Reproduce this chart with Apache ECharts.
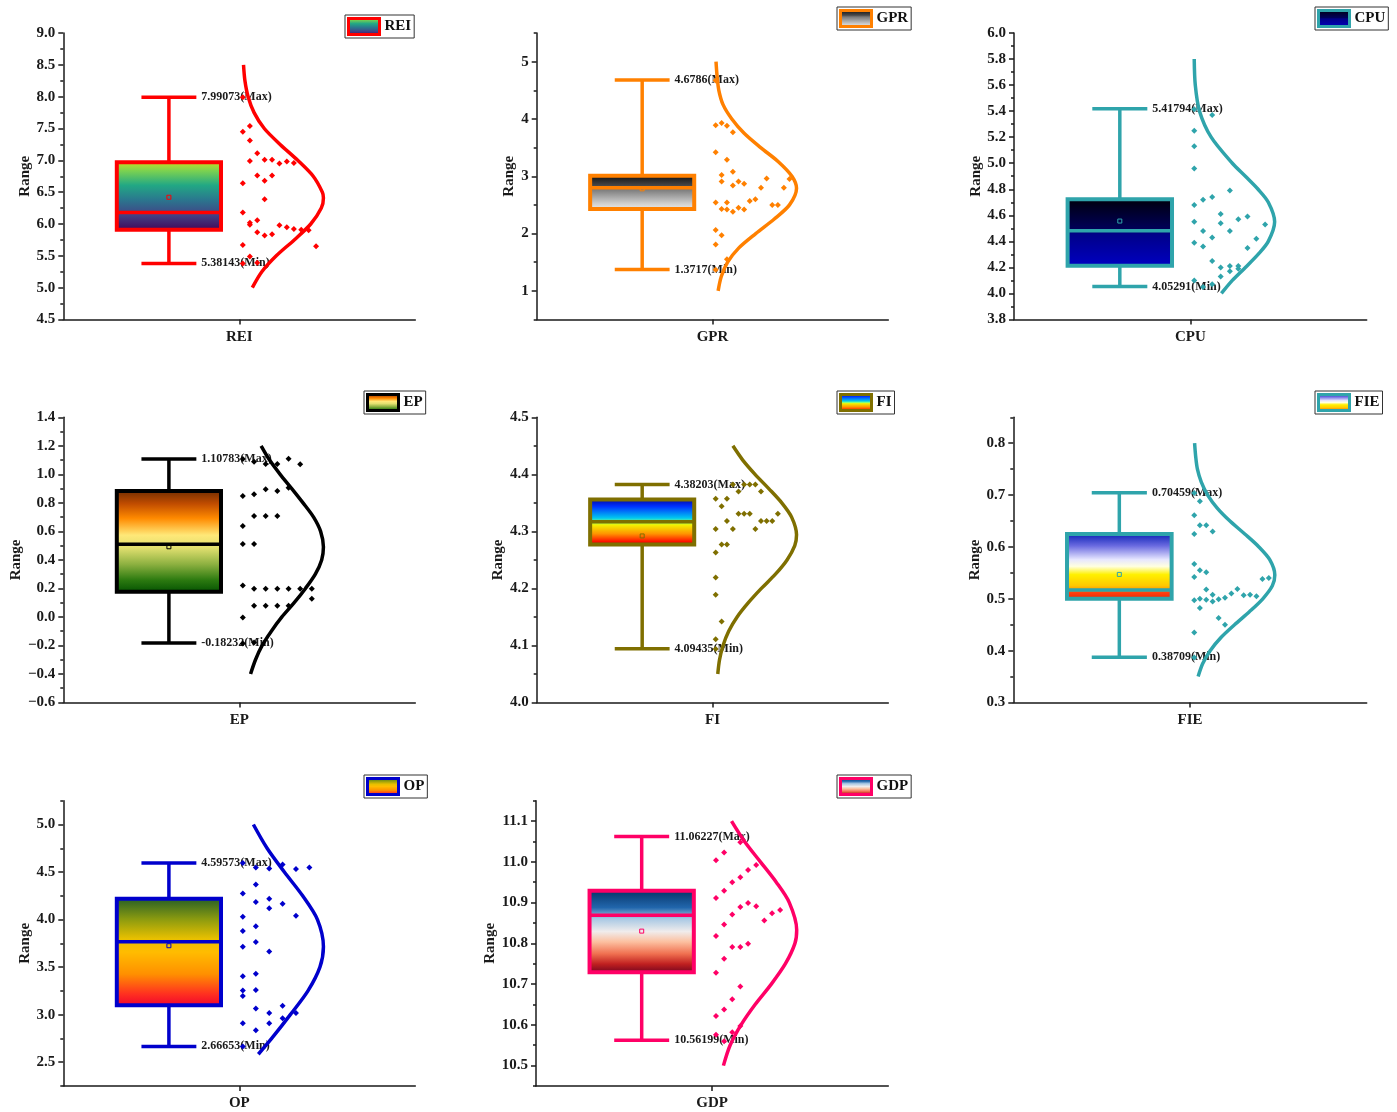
<!DOCTYPE html>
<html><head><meta charset="utf-8">
<script src="https://cdn.jsdelivr.net/npm/echarts@6/dist/echarts.min.js"></script>
<style>html,body{margin:0;padding:0;background:#fff}#c{width:1397px;height:1112px}</style>
</head><body><div id="c"></div>
<script>
// ---------------- DATA ----------------
const categories = ['REI','GPR','CPU','EP','FI','FIE','OP','GDP'];
// box stats: [min, q1, median, q3, max, mean]
const REI_box = [5.38143, 5.91, 6.18, 6.97, 7.99073, 6.42];
const GPR_box = [1.3717, 2.43, 2.80, 3.01, 4.6786, 2.78];
const CPU_box = [4.05291, 4.213, 4.482, 4.723, 5.41794, 4.556];
const EP_box  = [-0.18232, 0.177, 0.509, 0.883, 1.10783, 0.492];
const FI_box  = [4.09435, 4.277, 4.317, 4.356, 4.38203, 4.292];
const FIE_box = [0.38709, 0.500, 0.517, 0.625, 0.70459, 0.547];
const OP_box  = [2.66653, 3.099, 3.768, 4.219, 4.59573, 3.725];
const GDP_box = [10.56199, 10.729, 10.869, 10.929, 11.06227, 10.830];

// scatter points [jitter x, value]
const REI_points = [[51.0,7.45],[53.0,7.54],[53.0,7.31],[55.1,7.11],[53.0,6.99],[57.2,7.01],[59.3,7.01],[61.4,6.95],[63.5,6.98],[65.5,6.96],[55.1,6.76],[59.3,6.76],[57.2,6.68],[51.0,6.64],[57.2,6.39],[51.0,6.18],[53.0,6.02],[53.0,5.99],[55.1,6.06],[61.4,5.98],[63.5,5.95],[65.5,5.92],[67.6,5.91],[69.7,5.90],[55.1,5.87],[57.2,5.82],[59.3,5.84],[71.8,5.65],[51.0,5.67],[53.0,5.49],[51.0,5.38],[55.1,5.39],[51.0,7.99]];
const GPR_points = [[50.9,3.89],[52.6,3.93],[54.1,3.88],[55.8,3.77],[50.9,3.42],[54.1,3.29],[55.8,3.08],[52.6,3.02],[52.6,2.91],[57.4,2.91],[59.0,2.87],[55.8,2.84],[65.4,2.96],[71.9,2.95],[63.8,2.80],[70.3,2.80],[62.2,2.60],[60.6,2.57],[50.9,2.54],[54.1,2.54],[67.0,2.50],[68.6,2.50],[52.6,2.43],[54.1,2.42],[57.4,2.45],[59.0,2.42],[55.8,2.38],[50.9,2.06],[52.6,1.97],[50.9,1.81],[54.1,1.55],[50.9,1.37],[50.9,4.67]];
const CPU_points = [[51.1,5.415],[56.2,5.37],[51.1,5.25],[51.1,5.13],[51.1,4.96],[61.2,4.79],[56.2,4.74],[53.6,4.72],[51.1,4.68],[58.6,4.61],[66.2,4.59],[63.6,4.57],[51.1,4.55],[58.6,4.54],[71.2,4.53],[53.6,4.48],[61.2,4.48],[56.2,4.43],[68.7,4.42],[51.1,4.39],[53.6,4.36],[66.2,4.35],[56.2,4.25],[58.6,4.20],[61.2,4.21],[63.6,4.21],[61.2,4.17],[63.6,4.19],[58.6,4.13],[51.1,4.10],[56.2,4.07],[53.6,4.05]];
const EP_points = [[51.0,1.108],[54.2,1.089],[57.5,1.073],[60.8,1.073],[64.0,1.11],[67.3,1.07],[51.0,0.848],[54.2,0.86],[57.5,0.895],[60.8,0.883],[64.0,0.906],[54.2,0.708],[57.5,0.708],[60.8,0.708],[51.0,0.637],[51.0,0.511],[54.2,0.511],[51.0,0.221],[54.2,0.198],[57.5,0.198],[60.8,0.198],[64.0,0.198],[67.3,0.198],[70.6,0.198],[70.6,0.127],[54.2,0.078],[57.5,0.078],[60.8,0.078],[64.0,0.078],[51.0,-0.004],[51.0,-0.186],[54.2,-0.18]];
const FI_points = [[55.8,4.382],[59.0,4.382],[60.6,4.382],[62.2,4.382],[57.4,4.370],[63.8,4.370],[50.9,4.357],[54.1,4.357],[52.6,4.344],[57.4,4.331],[59.0,4.331],[60.6,4.331],[68.6,4.331],[54.1,4.318],[63.8,4.318],[65.4,4.318],[67.0,4.318],[50.9,4.304],[55.8,4.304],[62.2,4.304],[52.6,4.277],[54.1,4.277],[50.9,4.263],[50.9,4.219],[50.9,4.189],[52.6,4.142],[50.9,4.111],[50.9,4.094]];
const FIE_points = [[51.2,0.704],[52.8,0.688],[51.2,0.661],[52.8,0.642],[54.6,0.642],[56.4,0.630],[51.2,0.625],[51.2,0.567],[52.8,0.555],[54.6,0.551],[51.2,0.542],[70.5,0.538],[72.3,0.540],[54.6,0.518],[63.4,0.519],[61.7,0.510],[56.4,0.508],[65.2,0.507],[67.0,0.508],[68.8,0.505],[59.9,0.502],[58.1,0.499],[52.8,0.500],[51.2,0.497],[54.6,0.498],[56.4,0.495],[52.8,0.482],[58.1,0.463],[59.9,0.450],[51.2,0.435],[51.2,0.387]];
const OP_points = [[51.0,4.594],[54.7,4.548],[58.5,4.538],[62.3,4.58],[66.1,4.531],[69.9,4.548],[54.7,4.37],[51.0,4.275],[54.7,4.184],[58.5,4.219],[62.3,4.167],[58.5,4.118],[66.1,4.041],[51.0,4.03],[54.7,3.929],[51.0,3.88],[54.7,3.764],[51.0,3.715],[58.5,3.663],[54.7,3.431],[51.0,3.403],[54.7,3.26],[51.0,3.253],[51.0,3.197],[54.7,3.064],[62.3,3.095],[58.5,3.018],[66.1,3.018],[62.3,2.962],[51.0,2.91],[58.5,2.91],[54.7,2.836],[51.0,2.665]];
const GDP_points = [[58.0,11.048],[53.4,11.023],[51.1,11.004],[62.5,10.992],[60.2,10.98],[58.0,10.962],[55.7,10.95],[53.4,10.929],[51.1,10.911],[60.2,10.899],[62.5,10.891],[58.0,10.889],[69.3,10.882],[67.0,10.874],[55.7,10.871],[64.8,10.856],[53.4,10.846],[51.1,10.818],[60.2,10.799],[58.0,10.791],[55.7,10.791],[53.4,10.762],[51.1,10.728],[58.0,10.694],[55.7,10.663],[53.4,10.638],[51.1,10.622],[58.0,10.597],[55.7,10.582],[51.1,10.576],[53.4,10.56]];

// distribution curves [x, value]
const REI_curve = [[51.2,8.5],[51.6,8.25],[52.5,8.0],[54.2,7.75],[57.1,7.5],[61.6,7.25],[66.6,7.0],[71.0,6.75],[73.6,6.5],[73.9,6.41],[73.3,6.25],[70.3,6.0],[65.6,5.75],[60.5,5.5],[56.4,5.25],[53.7,5.0]];
const GPR_curve = [[51.0,5.0],[51.3,4.75],[51.8,4.5],[53.0,4.25],[55.5,4.0],[59.0,3.75],[63.7,3.5],[68.8,3.25],[72.6,3.0],[73.9,2.79],[71.9,2.5],[67.5,2.25],[62.3,2.0],[57.5,1.75],[54.3,1.5],[52.5,1.25],[51.6,1.0]];
const CPU_curve = [[51.1,5.8],[51.4,5.6],[52.6,5.4],[55.9,5.2],[61.9,5.0],[65.6,4.9],[69.2,4.8],[72.1,4.7],[73.9,4.55],[72.1,4.4],[69.2,4.3],[65.6,4.2],[61.9,4.1],[58.8,4.0]];
const EP_curve = [[56.2,1.2],[58.6,1.1],[61.6,1.0],[64.9,0.9],[68.1,0.8],[71.1,0.7],[73.1,0.6],[73.9,0.49],[73.4,0.4],[71.6,0.3],[68.8,0.2],[65.6,0.1],[62.1,0.0],[59.1,-0.1],[56.5,-0.2],[54.6,-0.3],[53.2,-0.4]];
const FI_curve = [[55.8,4.45],[58.6,4.425],[62.1,4.4],[66.0,4.375],[69.7,4.35],[72.5,4.325],[73.9,4.294],[73.4,4.275],[71.2,4.25],[67.9,4.225],[63.9,4.2],[60.2,4.175],[57.0,4.15],[54.6,4.125],[53.0,4.1],[52.0,4.075],[51.5,4.05]];
const FIE_curve = [[51.3,0.8],[51.6,0.775],[52.1,0.75],[53.2,0.725],[55.0,0.7],[57.7,0.675],[61.3,0.65],[65.5,0.625],[69.5,0.6],[72.6,0.575],[74.0,0.546],[73.3,0.525],[70.6,0.5],[66.8,0.475],[62.6,0.45],[58.7,0.425],[55.7,0.4],[53.6,0.375],[52.3,0.35]];
const OP_curve = [[54.0,5.0],[57.9,4.75],[62.8,4.5],[68.0,4.25],[72.2,4.0],[73.9,3.715],[72.9,3.5],[69.5,3.25],[64.5,3.0],[59.2,2.75],[55.4,2.584]];
const GDP_curve = [[55.5,11.1],[59.2,11.05],[63.7,11.0],[68.2,10.95],[71.9,10.9],[74.0,10.833],[73.5,10.8],[70.8,10.75],[66.8,10.7],[62.2,10.65],[58.2,10.6],[55.1,10.55],[53.2,10.5]];

// y-axis tick labels and ranges
const REI_ticks = [4.5,5.0,5.5,6.0,6.5,7.0,7.5,8.0,8.5,9.0];
const GPR_ticks = [1,2,3,4,5];
const CPU_ticks = [3.8,4.0,4.2,4.4,4.6,4.8,5.0,5.2,5.4,5.6,5.8,6.0];
const EP_ticks  = [-0.6,-0.4,-0.2,0.0,0.2,0.4,0.6,0.8,1.0,1.2,1.4];
const FI_ticks  = [4.0,4.1,4.2,4.3,4.4,4.5];
const FIE_ticks = [0.3,0.4,0.5,0.6,0.7,0.8];
const OP_ticks  = [2.5,3.0,3.5,4.0,4.5,5.0];
const GDP_ticks = [10.5,10.6,10.7,10.8,10.9,11.0,11.1];
const REI_range = [4.5,9.0], GPR_range = [0.5,5.5], CPU_range = [3.8,6.0], EP_range = [-0.6,1.4];
const FI_range = [4.0,4.5], FIE_range = [0.3,0.85], OP_range = [2.25,5.25], GDP_range = [10.45,11.15];

// ---------------- STYLE / LAYOUT ----------------
const FONT = '"Times New Roman","Liberation Serif","DejaVu Serif",serif';
const BOX_X = 30, BOX_W = 29.6, CAP_W = 15.6;
const TEAL = '#2fa4ab';
const panels = [
 {name:'REI', box:REI_box, pts:REI_points, curve:REI_curve, ticks:REI_ticks, range:REI_range, dec:1,
  grid:[63.3,33,352,286.5], legend:[345,15], gap:29, color:'#ff0000',
  stops:[[0,'#d2e01c'],[0.15,'#7ad151'],[0.35,'#22a884'],[0.55,'#2a788e'],[0.76,'#414487'],[1,'#440154']]},
 {name:'GPR', box:GPR_box, pts:GPR_points, curve:GPR_curve, ticks:GPR_ticks, range:GPR_range, dec:0,
  grid:[536.7,33,351.6,286.5], legend:[837,7], gap:20, color:'#ff8000',
  stops:[[0,'#050505'],[0.33,'#4a4a4a'],[0.42,'#7a7a7a'],[0.8,'#cfcfcf'],[1,'#f2f2f2']]},
 {name:'CPU', box:CPU_box, pts:CPU_points, curve:CPU_curve, ticks:CPU_ticks, range:CPU_range, dec:1,
  grid:[1014,33,352.7,286.5], legend:[1315,7], gap:30, color:TEAL,
  stops:[[0,'#000008'],[0.45,'#000058'],[0.52,'#000088'],[1,'#0000c4']]},
 {name:'EP', box:EP_box, pts:EP_points, curve:EP_curve, ticks:EP_ticks, range:EP_range, dec:1,
  grid:[63.3,417.3,352,285.2], legend:[364,391], gap:39, color:'#000000',
  stops:[[0,'#6b2a00'],[0.14,'#c04c00'],[0.28,'#ff8a00'],[0.44,'#ffe878'],[0.56,'#e2e070'],[0.72,'#8cb040'],[0.87,'#2c7a10'],[1,'#004e00']]},
 {name:'FI', box:FI_box, pts:FI_points, curve:FI_curve, ticks:FI_ticks, range:FI_range, dec:1,
  grid:[536.7,417.3,351.6,285.2], legend:[837,391], gap:31, color:'#7f6f00',
  stops:[[0,'#00008c'],[0.18,'#0030ff'],[0.42,'#00c8f0'],[0.5,'#80ff80'],[0.56,'#f4f000'],[0.74,'#ff9400'],[0.9,'#ff1000'],[1,'#a00000']]},
 {name:'FIE', box:FIE_box, pts:FIE_points, curve:FIE_curve, ticks:FIE_ticks, range:FIE_range, dec:1,
  grid:[1013.3,417.3,353.4,285.2], legend:[1315,391], gap:30, color:TEAL,
  stops:[[0,'#0018b0'],[0.2,'#6a6ae0'],[0.4,'#e6e6ff'],[0.5,'#ffffe0'],[0.62,'#fff000'],[0.78,'#ffc800'],[0.85,'#ff9000'],[0.88,'#ff4010'],[1,'#e82000']]},
 {name:'OP', box:OP_box, pts:OP_points, curve:OP_curve, ticks:OP_ticks, range:OP_range, dec:1,
  grid:[63.3,800.7,352,285.3], legend:[364,775], gap:31, color:'#0000cc',
  stops:[[0,'#1e5a28'],[0.2,'#8a9a10'],[0.38,'#e8c000'],[0.5,'#ffbc00'],[0.7,'#ff9000'],[0.88,'#ff3020'],[1,'#ee0030']]},
 {name:'GDP', box:GDP_box, pts:GDP_points, curve:GDP_curve, ticks:GDP_ticks, range:GDP_range, dec:1,
  grid:[536,800.7,352.3,285.3], legend:[837,775], gap:38, color:'#ff0066',
  stops:[[0,'#053061'],[0.22,'#2166ac'],[0.35,'#a8c8e4'],[0.5,'#f0ecec'],[0.62,'#fcc0a0'],[0.76,'#f07050'],[0.88,'#c02020'],[1,'#67001f']]}
];

function grad(stops){
  return new echarts.graphic.LinearGradient(0,0,0,1, stops.map(s=>({offset:s[0], color:s[1]})));
}
function minors(ticks, range){
  const step = ticks[1]-ticks[0], out = [];
  for (let v = ticks[0]-step/2; v <= range[1]+1e-9; v += step) {
    if (v >= range[0]-1e-9) out.push(+v.toFixed(6));
  }
  return out;
}
function makeRender(p){
  return function(params, api){
    const x = api.value(0);
    const mn=api.value(1), q1=api.value(2), md=api.value(3), q3=api.value(4), mx=api.value(5), mean=api.value(6);
    const P = v => api.coord([x, v]);
    const cx = P(mn)[0];
    const yMin=P(mn)[1], yQ1=P(q1)[1], yMd=P(md)[1], yQ3=P(q3)[1], yMax=P(mx)[1], yMean=P(mean)[1];
    const bw = api.size([BOX_W,0])[0], cw = api.size([CAP_W,0])[0];
    const ls = {stroke:p.color, lineWidth:3.5};
    const tf = 'bold 12px ' + FONT;
    return {type:'group', children:[
      {type:'line', shape:{x1:cx,y1:yMax,x2:cx,y2:yQ3}, style:ls},
      {type:'line', shape:{x1:cx,y1:yQ1,x2:cx,y2:yMin}, style:ls},
      {type:'line', shape:{x1:cx-cw/2,y1:yMax,x2:cx+cw/2,y2:yMax}, style:ls},
      {type:'line', shape:{x1:cx-cw/2,y1:yMin,x2:cx+cw/2,y2:yMin}, style:ls},
      {type:'rect', shape:{x:cx-bw/2,y:yQ3,width:bw,height:yQ1-yQ3}, style:{fill:grad(p.stops), stroke:p.color, lineWidth:4}},
      {type:'line', shape:{x1:cx-bw/2,y1:yMd,x2:cx+bw/2,y2:yMd}, style:ls},
      {type:'rect', shape:{x:cx-2,y:yMean-2,width:4,height:4}, style:{fill:'none', stroke:p.color, lineWidth:1}},
      {type:'text', x:cx+cw/2+5, y:yMax, style:{text:String(mx)+'(Max)', fill:'#1a1a1a', font:tf, verticalAlign:'middle', align:'left'}},
      {type:'text', x:cx+cw/2+5, y:yMin, style:{text:String(mn)+'(Min)', fill:'#1a1a1a', font:tf, verticalAlign:'middle', align:'left'}}
    ]};
  };
}

const option = {animation:false, backgroundColor:'#fff', grid:[], xAxis:[], yAxis:[], series:[], legend:[]};
const axisLineStyle = {color:'#1a1a1a', width:1.5};
panels.forEach((p,i)=>{
  option.grid.push({left:p.grid[0], top:p.grid[1], width:p.grid[2], height:p.grid[3], containLabel:false});
  option.xAxis.push({
    type:'value', gridIndex:i, min:0, max:100,
    axisLine:{show:true, onZero:false, lineStyle:axisLineStyle},
    axisTick:{show:true, customValues:[50], length:5, lineStyle:axisLineStyle},
    axisLabel:{show:true, customValues:[50], formatter:()=>p.name, margin:10,
      fontFamily:FONT, fontWeight:'bold', fontSize:15, color:'#1a1a1a'},
    splitLine:{show:false}
  });
  option.yAxis.push({
    type:'value', gridIndex:i, position:'left', min:p.range[0], max:p.range[1],
    name:'Range', nameLocation:'middle', nameGap:p.gap, nameRotate:90,
    nameTextStyle:{fontFamily:FONT, fontWeight:'bold', fontSize:15, color:'#1a1a1a'},
    axisLine:{show:true, onZero:false, lineStyle:axisLineStyle},
    axisTick:{show:true, customValues:p.ticks, length:5, lineStyle:axisLineStyle},
    axisLabel:{show:true, customValues:p.ticks, margin:8,
      formatter:v=>Number(v).toFixed(p.dec).replace('-','\u2212'),
      fontFamily:FONT, fontWeight:'bold', fontSize:15, color:'#1a1a1a'},
    splitLine:{show:false}
  });
  option.yAxis.push({
    type:'value', gridIndex:i, position:'left', min:p.range[0], max:p.range[1],
    axisLine:{show:false, onZero:false}, axisLabel:{show:false}, splitLine:{show:false},
    axisTick:{show:true, customValues:minors(p.ticks,p.range), length:3, lineStyle:axisLineStyle}
  });
  option.series.push({
    type:'custom', name:p.name, xAxisIndex:i, yAxisIndex:2*i, z:2,
    renderItem:makeRender(p),
    itemStyle:{color:grad(p.stops), borderColor:p.color, borderWidth:3},
    data:[[BOX_X].concat(p.box)]
  });
  option.series.push({
    type:'scatter', name:p.name+' data', xAxisIndex:i, yAxisIndex:2*i, z:5,
    symbol:'diamond', symbolSize:6, itemStyle:{color:p.color, opacity:1}, data:p.pts
  });
  option.series.push({
    type:'line', name:p.name+' curve', xAxisIndex:i, yAxisIndex:2*i, z:6,
    smooth:0.3, showSymbol:false, lineStyle:{color:p.color, width:3.5}, data:p.curve
  });
  option.legend.push({
    left:p.legend[0], top:p.legend[1], orient:'horizontal', selectedMode:false,
    data:[{name:p.name, icon:'rect', itemStyle:{color:grad(p.stops), borderColor:p.color, borderWidth:3}}],
    itemWidth:31, itemHeight:16, itemGap:0, padding:[2,3,2,2],
    borderColor:'#333', borderWidth:1, backgroundColor:'#fff', borderRadius:0,
    textStyle:{fontFamily:FONT, fontWeight:'bold', fontSize:15, color:'#111'}
  });
});

const chart = echarts.init(document.getElementById('c'), null, {renderer:'canvas'});
chart.setOption(option);
</script></body></html>
